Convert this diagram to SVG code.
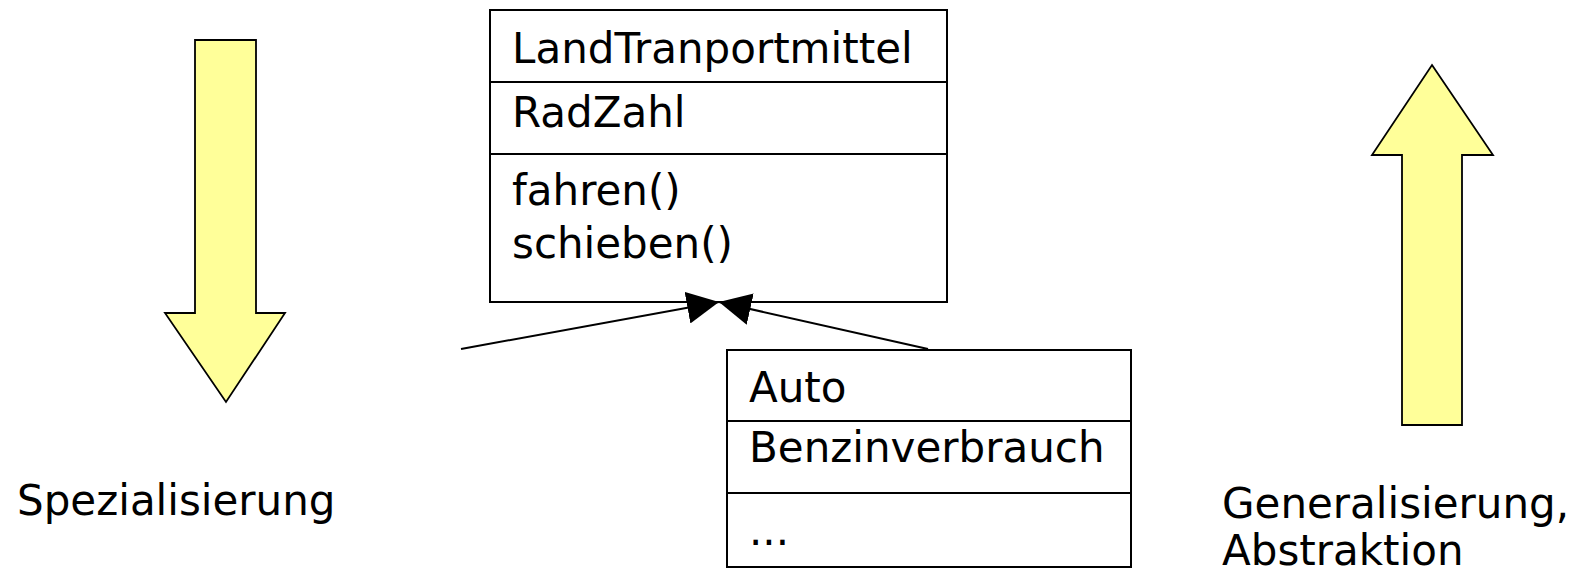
<svg xmlns="http://www.w3.org/2000/svg" width="1581" height="575" viewBox="0 0 1581 575">
  <style>
    .box { fill: #ffffff; stroke: #000000; stroke-width: 2; }
    .sep { stroke: #000000; stroke-width: 2; }
    .txt { font-family: "DejaVu Sans", Verdana, sans-serif; font-size: 42px; fill: #000000; }
    .big { fill: #ffff99; stroke: #000000; stroke-width: 1.8; stroke-linejoin: miter; }
    .edge { fill: none; stroke: #000000; stroke-width: 2; }
  </style>
  <defs>
    <marker id="head" markerUnits="userSpaceOnUse" markerWidth="32" markerHeight="32" viewBox="0 0 30 30" refX="30" refY="15" orient="auto">
      <path d="M0,0 L30,15 L0,30 Z" fill="#000000"/>
    </marker>
  </defs>

  <!-- big downward arrow: specialisation -->
  <g id="arrow-down">
    <polygon class="big" points="195,40 256,40 256,313 285,313 226,402 165,313 195,313"/>
    <text class="txt" x="17" y="515">Spezialisierung</text>
  </g>

  <!-- big upward arrow: generalisation -->
  <g id="arrow-up">
    <polygon class="big" points="1432,65 1493,155 1462,155 1462,425 1402,425 1402,155 1372,155"/>
    <text class="txt" x="1222" y="518">Generalisierung,</text>
    <text class="txt" x="1222" y="565">Abstraktion</text>
  </g>

  <!-- superclass -->
  <g id="LandTranportmittel">
    <rect class="box" x="490" y="10" width="457" height="292"/>
    <line class="sep" x1="490" y1="82" x2="947" y2="82"/>
    <line class="sep" x1="490" y1="154" x2="947" y2="154"/>
    <text class="txt" x="512" y="63">LandTranportmittel</text>
    <text class="txt" x="512" y="127">RadZahl</text>
    <text class="txt" x="512" y="205">fahren()</text>
    <text class="txt" x="512" y="258">schieben()</text>
  </g>

  <!-- subclass -->
  <g id="Auto">
    <rect class="box" x="727" y="350" width="404" height="217"/>
    <line class="sep" x1="727" y1="421" x2="1131" y2="421"/>
    <line class="sep" x1="727" y1="493" x2="1131" y2="493"/>
    <text class="txt" x="749" y="402">Auto</text>
    <text class="txt" x="749" y="462">Benzinverbrauch</text>
    <text class="txt" x="749" y="545">...</text>
  </g>

  <!-- inheritance connectors -->
  <g id="connectors">
    <line class="edge" x1="461" y1="349" x2="719" y2="302" marker-end="url(#head)"/>
    <line class="edge" x1="928" y1="349" x2="719" y2="302" marker-end="url(#head)"/>
  </g>
</svg>
